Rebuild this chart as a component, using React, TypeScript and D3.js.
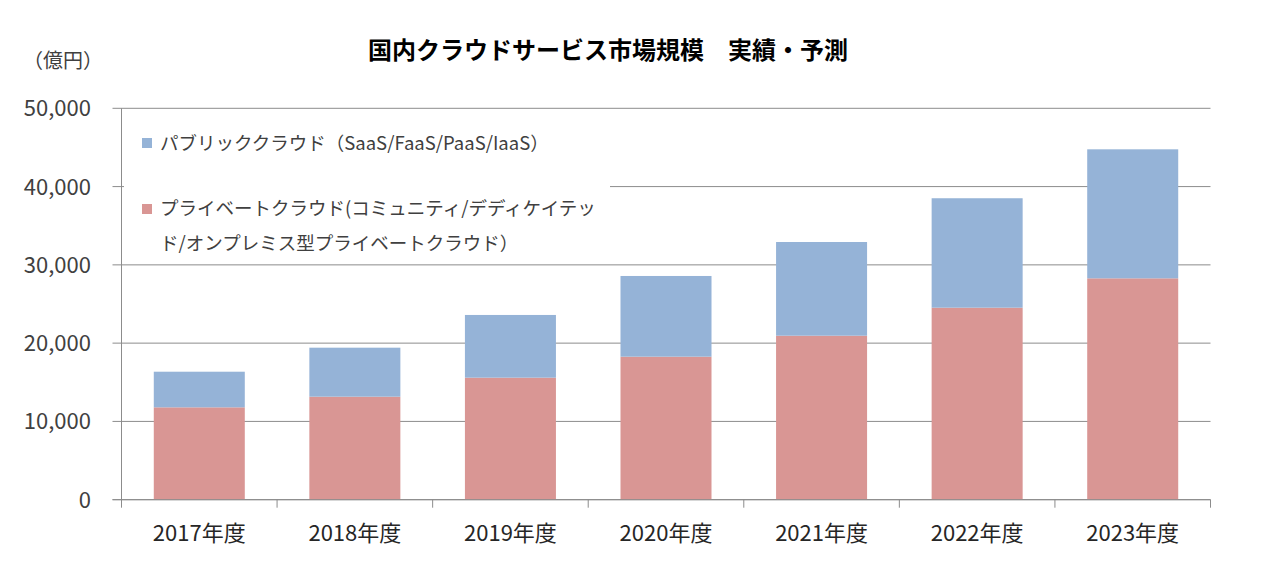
import React from "react";
import * as d3 from "d3";

const categories = ["2017年度", "2018年度", "2019年度", "2020年度", "2021年度", "2022年度", "2023年度"];
const privateCloud = [11800, 13160, 15590, 18270, 20950, 24530, 28280];
const publicCloud = [4550, 6260, 8010, 10310, 11970, 13980, 16480];
const yTicks = [0, 10000, 20000, 30000, 40000, 50000];
const title = "国内クラウドサービス市場規模　実績・予測";
const unitLabel = "（億円）";
const legendPublic = ["パブリッククラウド（SaaS/FaaS/PaaS/IaaS）"];
const legendPrivate = ["プライベートクラウド(コミュニティ/デディケイテッ", "ド/オンプレミス型プライベートクラウド）"];

const W = 1273;
const H = 564;
const left = 121.5;
const right = 1210.5;
const top = 108.3;
const bottom = 499.7;
const BLUE = "#95B3D7";
const RED = "#D99694";
const GRID = "#8c8c8c";
const FONT = "'Noto Sans CJK JP', 'Noto Sans', sans-serif";

export default function App() {
  const x = d3.scaleBand<string>().domain(categories).range([left, right]).paddingInner(0.415).paddingOuter(0.2075);
  const y = d3.scaleLinear().domain([0, 50000]).range([bottom, top]);
  const fmt = d3.format(",");
  const step = (right - left) / categories.length;

  return (
    <svg width={W} height={H} style={{ position: "absolute", left: 0, top: 0, background: "#fff" }} fontFamily={FONT}>
      <rect x={0} y={0} width={W} height={H} fill="#fff" />
      {yTicks.map((t) => (
        <line key={t} x1={left - 9} x2={right} y1={y(t)} y2={y(t)} stroke={GRID} strokeWidth={1} />
      ))}
      <rect x={124} y={116} width={486} height={142} fill="#fff" />
      {categories.map((c, i) => (
        <g key={c}>
          <rect x={x(c)} y={y(privateCloud[i])} width={x.bandwidth()} height={y(0) - y(privateCloud[i])} fill={RED} />
          <rect
            x={x(c)}
            y={y(privateCloud[i] + publicCloud[i])}
            width={x.bandwidth()}
            height={y(privateCloud[i]) - y(privateCloud[i] + publicCloud[i])}
            fill={BLUE}
          />
        </g>
      ))}
      <line x1={left} x2={left} y1={top} y2={bottom} stroke={GRID} />
      <line x1={left - 9} x2={right} y1={bottom} y2={bottom} stroke={GRID} />
      {d3.range(categories.length + 1).map((i) => (
        <line key={i} x1={left + i * step} x2={left + i * step} y1={bottom} y2={bottom + 8} stroke={GRID} />
      ))}
      {yTicks.map((t) => (
        <text key={t} x={91} y={y(t)} dy="0.36em" textAnchor="end" fontSize={22} fill="#404040">
          {fmt(t)}
        </text>
      ))}
      {categories.map((c) => (
        <text key={c} x={(x(c) as number) + x.bandwidth() / 2} y={533} dy="0.36em" textAnchor="middle" fontSize={22} fill="#262626">
          {c}
        </text>
      ))}
      <text x={608} y={50} dy="0.36em" textAnchor="middle" fontSize={24} fontWeight="bold" fill="#000">
        {title}
      </text>
      <text x={63} y={61} dy="0.36em" textAnchor="middle" fontSize={20} fill="#404040">
        {unitLabel}
      </text>
      <rect x={142} y={138} width={10} height={10} fill={BLUE} />
      {legendPublic.map((s, i) => (
        <text key={s} x={160} y={143 + i * 34} dy="0.36em" fontSize={18.5} fill="#404040">
          {s}
        </text>
      ))}
      <rect x={142} y={204} width={10} height={10} fill={RED} />
      {legendPrivate.map((s, i) => (
        <text key={s} x={160} y={208 + i * 35} dy="0.36em" fontSize={18.5} fill="#404040">
          {s}
        </text>
      ))}
    </svg>
  );
}
